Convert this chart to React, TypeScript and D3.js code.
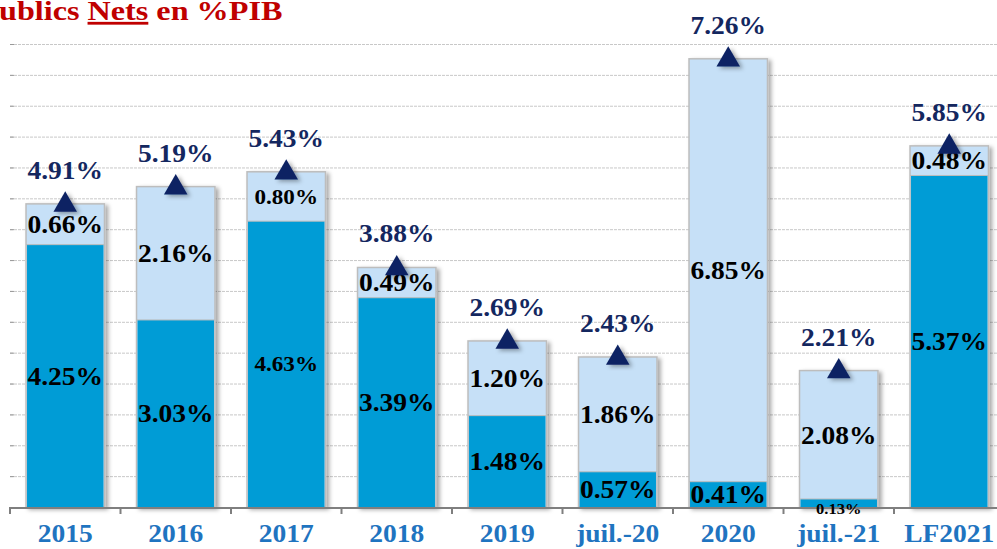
import React, { useEffect, useRef } from 'react';
import * as d3 from 'd3';

// chart data
const categories = ['2015', '2016', '2017', '2018', '2019', 'juil.-20', '2020', 'juil.-21', 'LF2021'];
const baseValues = [4.25, 3.03, 4.63, 3.39, 1.48, 0.57, 0.41, 0.13, 5.37];
const topValues = [0.66, 2.16, 0.8, 0.49, 1.2, 1.86, 6.85, 2.08, 0.48];
const totalValues = [4.91, 5.19, 5.43, 3.88, 2.69, 2.43, 7.26, 2.21, 5.85];
const yTicks = d3.range(0, 7.51, 0.5);

const fmt = (v: number) => `${v.toFixed(2)}%`;

const App = () => {
  const svgRef = useRef<SVGSVGElement>(null);

  useEffect(() => {
    const width = 997;
    const height = 549;
    const left = 10;

    const svg = d3.select(svgRef.current);
    svg.selectAll('*').remove();
    svg.attr('width', width).attr('height', height);

    const serif = '"Liberation Serif", "Times New Roman", serif';

    // drop shadow for bars and markers
    const defs = svg.append('defs');
    const f = defs.append('filter').attr('id', 'shadow')
      .attr('x', '-20%').attr('y', '-20%').attr('width', '150%').attr('height', '150%');
    f.append('feDropShadow').attr('dx', 3).attr('dy', 2).attr('stdDeviation', 2)
      .attr('flood-color', '#000').attr('flood-opacity', 0.35);

    const x = d3.scaleBand<string>()
      .domain(categories)
      .range([left, left + 110.5 * categories.length])
      .paddingInner(0.29)
      .paddingOuter(0.145);

    const y = d3.scaleLinear().domain([0, 7.5]).range([507, 44]);

    // gridlines
    const grid = svg.append('g')
      .attr('transform', `translate(${left},0)`)
      .call(d3.axisLeft(y).tickValues(yTicks).tickSize(-(width - left)).tickFormat(() => ''));
    grid.select('.domain').remove();
    grid.selectAll('.tick line')
      .attr('stroke', '#c8c8c8')
      .attr('stroke-dasharray', '3,1')
      .attr('stroke-width', 1)
      .filter((d: any) => d === 0).remove();
    grid.selectAll('.tick').append('line')
      .attr('x1', 0).attr('x2', 4)
      .attr('stroke', '#999');

    // bars
    const step = x.step();
    const gap = (step - x.bandwidth()) / 2;
    const bars = svg.append('g');
    categories.forEach((c, i) => {
      const bx = x(c)!;
      const g = bars.append('g');
      g.append('rect')
        .attr('x', bx).attr('y', y(totalValues[i]))
        .attr('width', x.bandwidth()).attr('height', y(0) - y(totalValues[i]))
        .attr('fill', '#c6e0f7')
        .attr('stroke', '#bdbdbd').attr('stroke-width', 1.5)
        .attr('filter', 'url(#shadow)');
      g.append('rect')
        .attr('x', bx + 1).attr('y', y(baseValues[i]))
        .attr('width', x.bandwidth() - 2).attr('height', y(0) - y(baseValues[i]))
        .attr('fill', '#009cd6');
      // separator line
      g.append('line')
        .attr('x1', bx).attr('x2', bx + x.bandwidth())
        .attr('y1', y(baseValues[i])).attr('y2', y(baseValues[i]))
        .attr('stroke', '#bdbdbd').attr('stroke-width', 1);
    });

    // x axis
    svg.append('line')
      .attr('x1', left).attr('x2', width)
      .attr('y1', y(0) + 1).attr('y2', y(0) + 1)
      .attr('stroke', '#7f7f7f').attr('stroke-width', 2);
    categories.forEach((c) => {
      svg.append('line')
        .attr('x1', x(c)! - gap).attr('x2', x(c)! - gap)
        .attr('y1', y(0)).attr('y2', y(0) + 7)
        .attr('stroke', '#7f7f7f').attr('stroke-width', 2);
    });

    // text is slightly wider than plain Times in the reference
    const wide = (sel: any, cx: (d: any, i: number) => number, cy: (d: any, i: number) => number, sx = 1.1) =>
      sel.attr('transform', (d: any, i: number) => `translate(${cx(d, i)},${cy(d, i)}) scale(${sx},1)`);

    wide(
      svg.append('g').selectAll('text')
        .data(categories)
        .join('text')
        .attr('text-anchor', 'middle')
        .attr('font-family', serif)
        .attr('font-weight', 'bold')
        .attr('font-size', 25)
        .attr('fill', '#1f74c0')
        .text((d: string) => d),
      (d: string) => x(d)! + x.bandwidth() / 2,
      () => 542,
    );

    // segment labels
    const labelSize = (i: number, v: number) => (v < 0.2 ? 15 : i === 2 ? 21 : 25);
    categories.forEach((c, i) => {
      const cx = x(c)! + x.bandwidth() / 2;
      const b = baseValues[i];
      const t = topValues[i];
      svg.append('text')
        .attr('transform', `translate(${cx},${b < 0.2 ? y(0) + 2 : (y(0) + y(b)) / 2}) scale(1.1,1)`)
        .attr('dy', '0.35em')
        .attr('text-anchor', 'middle')
        .attr('font-family', serif).attr('font-weight', 'bold')
        .attr('font-size', labelSize(i, b))
        .attr('fill', '#000')
        .text(fmt(b));
      svg.append('text')
        .attr('transform', `translate(${cx},${(y(b) + y(b + t)) / 2}) scale(1.1,1)`)
        .attr('dy', '0.35em')
        .attr('text-anchor', 'middle')
        .attr('font-family', serif).attr('font-weight', 'bold')
        .attr('font-size', labelSize(i, t))
        .attr('fill', '#000')
        .text(fmt(t));
    });

    // total markers
    const tri = d3.symbol().type(d3.symbolTriangle).size(240);
    svg.append('g').selectAll('path')
      .data(totalValues)
      .join('path')
      .attr('d', tri)
      .attr('transform', (d, i) => `translate(${x(categories[i])! + x.bandwidth() / 2},${y(d) + 1})`)
      .attr('fill', '#0d2463')
      .attr('filter', 'url(#shadow)');

    wide(
      svg.append('g').selectAll('text')
        .data(totalValues)
        .join('text')
        .attr('text-anchor', 'middle')
        .attr('font-family', serif).attr('font-weight', 'bold')
        .attr('font-size', 25)
        .attr('fill', '#14275f')
        .text((d: number) => fmt(d)),
      (d: number, i: number) => x(categories[i])! + x.bandwidth() / 2,
      (d: number) => y(d) - 25,
    );

    // title (cropped at the left edge, as in the source)
    const title = svg.append('text')
      .attr('transform', 'translate(-1,20) scale(1.15,1)')
      .attr('font-family', serif).attr('font-weight', 'bold')
      .attr('font-size', 28)
      .attr('fill', '#c00000');
    title.append('tspan').text('ublics ');
    title.append('tspan').attr('text-decoration', 'underline').text('Nets');
    title.append('tspan').text(' en %PIB');
  }, []);

  return (
    <div style={{ position: 'fixed', left: 0, top: 0 }}>
      <svg ref={svgRef} style={{ display: 'block', background: '#fff' }}></svg>
    </div>
  );
};

export default App;
